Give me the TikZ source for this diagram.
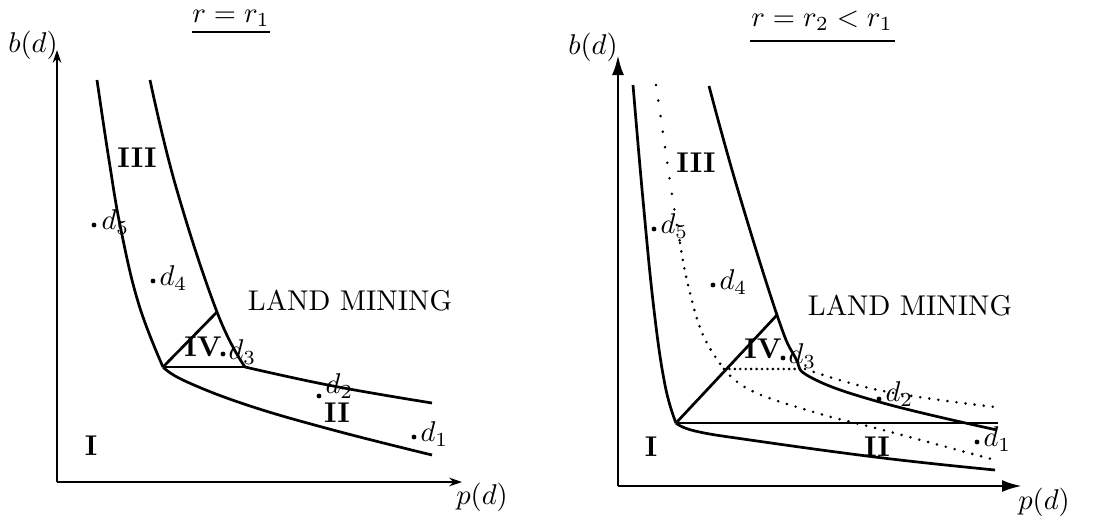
\documentclass[tikz,border=0pt]{standalone}
\usetikzlibrary{arrows.meta}
\begin{document}
\begin{tikzpicture}[x=0.35pt,y=-0.35pt,
  curve/.style={line width=0.95pt,line join=round},
  dotcurve/.style={line width=1pt,line cap=round,dash pattern=on 0pt off #1},
  dotcurve/.default=3.2pt,
  axisL/.style={line width=0.45pt,-{Stealth[length=4.5pt,width=3pt]}},
  axisR/.style={line width=1pt,-{Latex[length=7pt,width=4.2pt]}},
  pt/.style={circle,fill=black,inner sep=0pt,minimum size=1.7pt},
  lab/.style={inner sep=0pt,anchor=west},
  rom/.style={inner sep=0pt,font=\bfseries}]
\useasboundingbox (0,0) rectangle (1098,515);
% ================= LEFT PANEL =================
\coordinate (O1) at (57,482);
\coordinate (Y1) at (57,50);
\coordinate (X1) at (462,482);
\draw[axisL] (O1) -- (Y1);
\draw[axisL] (O1) -- (X1);
\node (bL) at (33,45) {$b(d)$};
\node (pL) at (482,497) {$p(d)$};
\node (tL) at (231,18) {$r=r_1$};
\draw[line width=0.4pt] (192,32) -- (270,32);
\coordinate (K1) at (163,367);
\coordinate (T1) at (217,312);
\coordinate (M1) at (245,367);
\draw[curve] plot[smooth,tension=0.7] coordinates {(97,80) (109,160) (121,230) (139,305) (163,367)};
\draw[curve] plot[smooth,tension=0.7] coordinates {(163,367) (185,381) (247,405) (333,430) (432,455)};
\draw[curve] plot[smooth,tension=0.7] coordinates {(150,80) (176,187) (217,312) (245,367)};
\draw[curve] plot[smooth,tension=0.7] coordinates {(245,367) (333,386) (432,403)};
\draw[curve] (K1) -- (T1);
\draw[curve] (K1) -- (M1);
\node[rom] (IIIL) at (137,158) {III};
\node[rom] (IVL) at (203,347) {IV};
\node[rom] (IIL) at (337,413) {II};
\node[rom] (IL) at (91,446) {I};
\node (LML) at (350,301) {LAND MINING};
\node[pt] (d5L) at (94,225) {};
\node[lab] (d5Ll) at (101,222) {$d_5$};
\node[pt] (d4L) at (153,281) {};
\node[lab] (d4Ll) at (159,278) {$d_4$};
\node[pt] (d3L) at (223,354) {};
\node[lab] (d3Ll) at (228,352) {$d_3$};
\node[pt] (d2L) at (319,396) {};
\node[lab] (d2Ll) at (325,386) {$d_2$};
\node[pt] (d1L) at (414,437) {};
\node[lab] (d1Ll) at (420,434) {$d_1$};
% ================= RIGHT PANEL =================
\coordinate (O2) at (618,486);
\coordinate (Y2) at (618,55);
\coordinate (X2) at (1022,486);
\draw[axisR] (O2) -- (Y2);
\draw[axisR] (O2) -- (X2);
\node (bR) at (593,47) {$b(d)$};
\node (pR) at (1044,502) {$p(d)$};
\node (tR) at (822,21) {$r=r_2<r_1$};
\draw[line width=0.4pt] (750,41) -- (895,41);
\coordinate (K2) at (676,423);
\coordinate (T2) at (777,315);
\coordinate (H2) at (998,423);
\coordinate (K3) at (724,369);
\coordinate (M3) at (805,369);
% solid curves
\draw[curve] plot[smooth,tension=0.7] coordinates {(633,85) (643,200) (654,310) (665,385) (676,423)};
\draw[curve] plot[smooth,tension=0.7] coordinates {(676,423) (695,431) (750,440) (883,458) (995,470)};
\draw[curve] plot[smooth,tension=0.7] coordinates {(709,86) (737,187) (777,315) (795,357) (812,378) (883,403) (997,430)};
\draw[curve] (K2) -- (T2);
\draw[curve] (K2) -- (H2);
% dotted curves
\draw[dotcurve=5.5pt] plot[smooth,tension=0.7] coordinates {(656,85) (664,140) (672,195) (680,243)};
\draw[dotcurve=3pt] plot[smooth,tension=0.7] coordinates {(680,243) (688,285) (703,335) (724,369)};
\draw[dotcurve=3.2pt] plot[smooth,tension=0.7] coordinates {(724,369) (752,391) (817,413) (883,430) (995,460)};
\draw[dotcurve=1.9pt] (K3) -- (M3);
\draw[dotcurve=3.2pt] plot[smooth,tension=0.7] coordinates {(805,369) (883,391) (995,407)};
\node[rom] (IIIR) at (696,163) {III};
\node[rom] (IVR) at (763,349) {IV};
\node[rom] (IIR) at (877,447) {II};
\node[rom] (IR) at (651,447) {I};
\node (LMR) at (910,306) {LAND MINING};
\node[pt] (d5R) at (654,229) {};
\node[lab] (d5Rl) at (660,226) {$d_5$};
\node[pt] (d4R) at (713,285) {};
\node[lab] (d4Rl) at (719,282) {$d_4$};
\node[pt] (d3R) at (783,358) {};
\node[lab] (d3Rl) at (788,356) {$d_3$};
\node[pt] (d2R) at (879,399) {};
\node[lab] (d2Rl) at (885,394) {$d_2$};
\node[pt] (d1R) at (977,442) {};
\node[lab] (d1Rl) at (983,439) {$d_1$};
\end{tikzpicture}
\end{document}
